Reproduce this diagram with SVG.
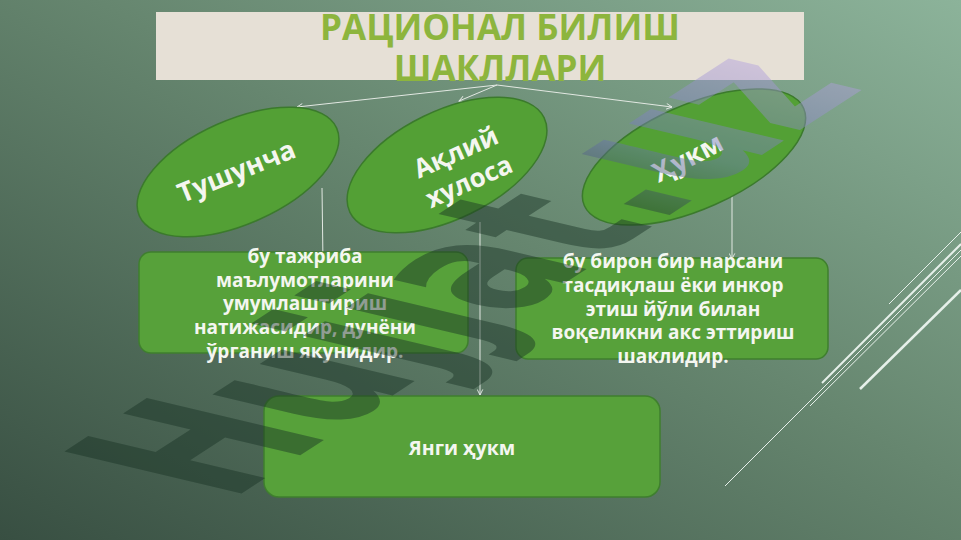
<svg xmlns="http://www.w3.org/2000/svg" width="961" height="540" viewBox="0 0 961 540">
<defs>
<linearGradient id="bg" x1="1" y1="0" x2="0" y2="1">
<stop offset="0" stop-color="#8cb39a"/>
<stop offset="0.45" stop-color="#66866f"/>
<stop offset="1" stop-color="#384f42"/>
</linearGradient>
<linearGradient id="wm" gradientUnits="userSpaceOnUse" x1="0" y1="0" x2="510" y2="0">
<stop offset="0" stop-color="#183224"/>
<stop offset="0.66" stop-color="#183224"/>
<stop offset="0.8" stop-color="#6f78b8"/>
<stop offset="1" stop-color="#b7a2e2"/>
</linearGradient>
<marker id="arr" viewBox="0 0 10 10" refX="9" refY="5" markerWidth="7" markerHeight="7" orient="auto" markerUnits="userSpaceOnUse">
<polyline points="1,1 9,5 1,9" fill="none" stroke="#e8ece8" stroke-width="1.3"/>
</marker>
</defs>
<style>
.ell{fill:#53a035;stroke:#3b7a2c;stroke-width:1.5}
.box{fill:#57a13a;stroke:#3f7f2e;stroke-width:1.5}
.lbl{font-family:"Open Sans","Noto Sans",sans-serif;font-weight:bold;fill:#f4f6f0;text-anchor:middle}
.con{stroke:#e2e8e2;stroke-width:1;fill:none}
.deco{stroke:#e6f0ea;fill:none}
</style>
<rect width="961" height="540" fill="url(#bg)"/>
<g id="deco-lines">
<line class="deco" x1="889" y1="304" x2="961" y2="232" stroke-width="1"/>
<line class="deco" x1="822" y1="383" x2="961" y2="244" stroke-width="2"/>
<line class="deco" x1="810" y1="406" x2="961" y2="256" stroke-width="1"/>
<line class="deco" x1="860" y1="389" x2="961" y2="290" stroke-width="2.5"/>
<line class="deco" x1="725" y1="486" x2="961" y2="250" stroke-width="1"/>
</g>
<g id="title">
<rect x="156" y="12" width="648" height="68" fill="#e6e0d6"/>
<text class="lbl" x="500" y="40" font-size="35" style="fill:#8db53d">РАЦИОНАЛ БИЛИШ</text>
<text class="lbl" x="500" y="81" font-size="35" style="fill:#8db53d">ШАКЛЛАРИ</text>
</g>
<g id="connectors">
<line class="con" x1="497" y1="85" x2="297" y2="107" marker-end="url(#arr)"/>
<line class="con" x1="497" y1="85" x2="459" y2="101" marker-end="url(#arr)"/>
<line class="con" x1="497" y1="85" x2="672" y2="107" marker-end="url(#arr)"/>
<line class="con" x1="322" y1="188" x2="323" y2="262" marker-end="url(#arr)"/>
<line class="con" x1="480" y1="222" x2="480" y2="395" marker-end="url(#arr)"/>
<line class="con" x1="732" y1="193" x2="732" y2="259" marker-end="url(#arr)"/>
</g>
<g id="node-tushuncha">
<ellipse class="ell" cx="238" cy="172" rx="108" ry="52" transform="rotate(-24 238 172)"/>
<text class="lbl" x="0" y="0" font-size="27" transform="translate(240 180) rotate(-22)">Тушунча</text>
</g>
<g id="node-aqliy">
<ellipse class="ell" cx="447" cy="165" rx="108" ry="54" transform="rotate(-26 447 165)"/>
<text class="lbl" font-size="26" transform="translate(462 166) rotate(-24)"><tspan x="0" y="-6">Ақлий</tspan><tspan x="0" y="26">хулоса</tspan></text>
</g>
<g id="node-hukm">
<ellipse class="ell" cx="694" cy="157" rx="120" ry="52" transform="rotate(-24 694 157)"/>
<text class="lbl" x="0" y="0" font-size="27" transform="translate(692 166) rotate(-27)">Ҳукм</text>
</g>
<g id="node-box1">
<rect class="box" x="139" y="252" width="329" height="101" rx="12"/>
<text class="lbl" font-size="19"><tspan x="305" y="263">бу тажриба</tspan><tspan x="305" y="287">маълумотларини</tspan><tspan x="305" y="310">умумлаштириш</tspan><tspan x="305" y="334">натижасидир, дунёни</tspan><tspan x="305" y="358">ўрганиш якунидир.</tspan></text>
</g>
<g id="node-box2">
<rect class="box" x="516" y="258" width="312" height="101" rx="12"/>
<text class="lbl" font-size="19"><tspan x="673" y="268">бу бирон бир нарсани</tspan><tspan x="673" y="292">тасдиқлаш ёки инкор</tspan><tspan x="673" y="316">этиш йўли билан</tspan><tspan x="673" y="339">воқеликни акс эттириш</tspan><tspan x="673" y="363">шаклидир.</tspan></text>
</g>
<g id="node-yangi">
<rect class="box" x="264" y="396" width="396" height="101" rx="15"/>
<text class="lbl" x="462" y="455" font-size="19.5">Янги ҳукм</text>
</g>
<g id="watermark" opacity="0.45">
<text x="0" y="0" font-family="DejaVu Sans, sans-serif" font-weight="bold" font-size="100" fill="url(#wm)" transform="matrix(1.26 -0.82 2.43 0.575 230 501)">Hujjat.uz</text>
</g>
</svg>
